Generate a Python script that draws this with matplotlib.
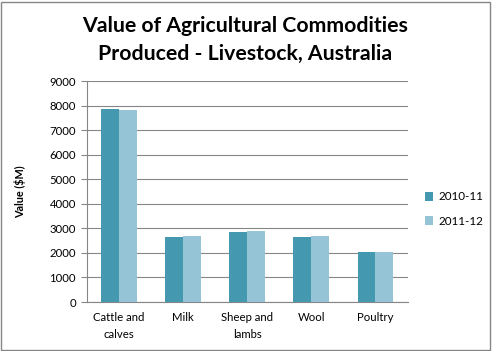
import numpy as np
import matplotlib
matplotlib.use("Agg")
import matplotlib.pyplot as plt
from matplotlib.patches import Rectangle

# chart data
categories = ["Cattle and\ncalves", "Milk", "Sheep and\nlambs", "Wool", "Poultry"]
years = ["2010-11", "2011-12"]
values_2010 = [7840, 2660, 2850, 2660, 2040]
values_2011 = [7800, 2700, 2890, 2700, 2050]
colors = ["#4499B0", "#94C4D6"]

plt.rcParams['font.family'] = ['Lato', 'DejaVu Sans']

fig = plt.figure(figsize=(4.94, 3.51), dpi=100)
ax = fig.add_axes([0.176, 0.1396, 0.649, 0.6296])

x = np.arange(len(categories))
w = 0.28
ax.bar(x - w / 2, values_2010, w, color=colors[0], label=years[0], zorder=3)
ax.bar(x + w / 2, values_2011, w, color=colors[1], label=years[1], zorder=3)

ax.set_xlim(-0.5, len(categories) - 0.5)
ax.set_ylim(0, 9000)
ax.set_yticks(range(0, 9001, 1000))
ax.set_xticks(x)
ax.set_xticklabels(categories, fontsize=8.2, linespacing=1.75)
ax.tick_params(axis='x', length=0, pad=7)
ax.tick_params(axis='y', length=4, width=0.8, color="#868686", labelsize=8.2, pad=4)

ax.grid(axis='y', color="#868686", linewidth=0.8, zorder=0)
for s in ["top", "right"]:
    ax.spines[s].set_visible(False)
for s in ["left", "bottom"]:
    ax.spines[s].set_color("#868686")
    ax.spines[s].set_linewidth(0.8)

ax.set_ylabel("Value ($M)", fontsize=7.8, fontweight='bold', labelpad=17)

fig.suptitle("Value of Agricultural Commodities\nProduced - Livestock, Australia",
             x=0.496, y=0.955, fontsize=15.3, fontweight='bold', linespacing=1.5)

fig.legend(loc='upper left', bbox_to_anchor=(0.85, 0.468), frameon=False,
           fontsize=8.4, handlelength=0.75, handleheight=0.75, handletextpad=0.4,
           labelspacing=1.15, borderaxespad=0)

# chart border
fig.patches.append(Rectangle((0.003, 0.004), 0.988, 0.991, transform=fig.transFigure,
                             fill=False, edgecolor="#868686", linewidth=1.0))

fig.savefig("out.png", dpi=100)
